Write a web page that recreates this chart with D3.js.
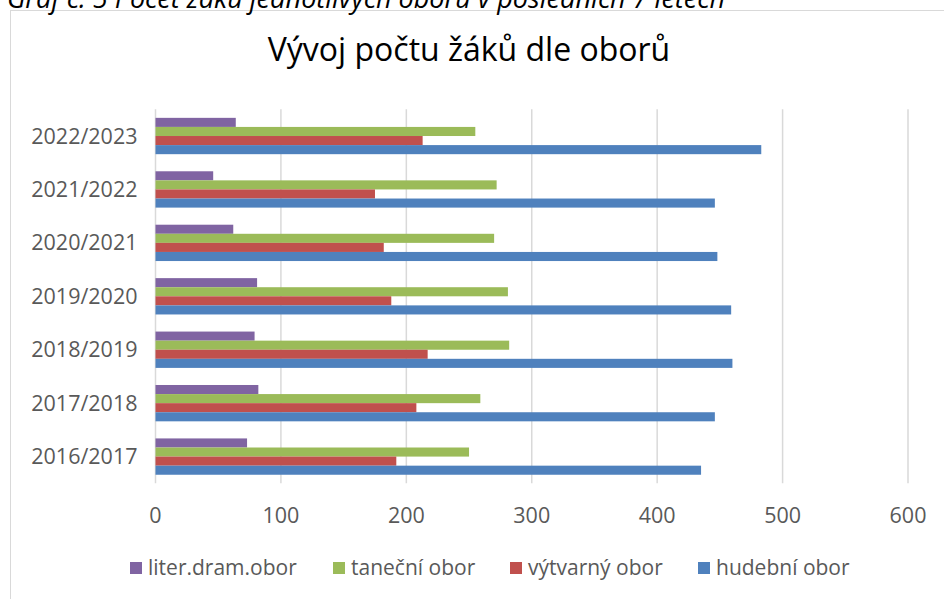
<!DOCTYPE html>
<html>
<head>
<meta charset="utf-8">
<script src="https://cdn.jsdelivr.net/npm/d3@7"></script>
<style>
  html, body { margin: 0; padding: 0; background: #fff; }
  svg { display: block; }
  text { font-family: "Open Sans", sans-serif; }
</style>
</head>
<body>
<div id="chart"></div>
<script>
  // school years, top to bottom as in the chart
  var years = ["2022/2023", "2021/2022", "2020/2021", "2019/2020", "2018/2019", "2017/2018", "2016/2017"];
  // series in order inside one group (top bar first)
  var seriesNames = ["liter.dram.obor", "taneční obor", "výtvarný obor", "hudební obor"];
  var seriesColors = ["#8064A2", "#9BBB59", "#C0504D", "#4F81BD"];
  var literDram = [64, 46, 62, 81, 79, 82, 73];
  var tanecni = [255, 272, 270, 281, 282, 259, 250];
  var vytvarny = [213, 175, 182, 188, 217, 208, 192];
  var hudebni = [483, 446, 448, 459, 460, 446, 435];
  var xTicks = [0, 100, 200, 300, 400, 500, 600];

  var W = 944, H = 599;
  var plotLeft = 155.5, plotRight = 908, plotTop = 109.3, plotBottom = 483.3;

  var svg = d3.select("#chart").append("svg")
      .attr("width", W)
      .attr("height", H);

  // chart frame (runs off the right and bottom of the picture)
  svg.append("rect")
      .attr("x", 10.5).attr("y", 10.5)
      .attr("width", W + 20).attr("height", H + 20)
      .attr("fill", "#fff")
      .attr("stroke", "#D9D9D9")
      .attr("stroke-width", 1);

  // caption of the document, cut off at the top
  svg.append("text")
      .attr("x", 7).attr("y", 8)
      .attr("font-size", 27)
      .attr("font-style", "italic")
      .attr("fill", "#000")
      .text("Graf č. 5  Počet žáků jednotlivých oborů v posledních 7 letech");

  svg.append("text")
      .attr("x", 469).attr("y", 61)
      .attr("text-anchor", "middle")
      .attr("font-size", 32)
      .attr("fill", "#000")
      .text("Vývoj počtu žáků dle oborů");

  var x = d3.scaleLinear().domain([0, 600]).range([plotLeft, plotRight]);
  var y = d3.scaleBand().domain(years).range([plotTop, plotBottom])
      .paddingInner(0.32).paddingOuter(0.16);
  var ySub = d3.scaleBand().domain(seriesNames).range([0, y.bandwidth()]);

  // vertical gridlines
  svg.append("g")
    .selectAll("line")
    .data(xTicks)
    .enter().append("line")
      .attr("x1", function(d) { return x(d); })
      .attr("x2", function(d) { return x(d); })
      .attr("y1", plotTop).attr("y2", plotBottom)
      .attr("stroke", "#D9D9D9")
      .attr("stroke-width", 1.5);

  var allValues = [literDram, tanecni, vytvarny, hudebni];

  var groups = svg.append("g")
    .selectAll("g")
    .data(years)
    .enter().append("g")
      .attr("transform", function(d) { return "translate(0," + y(d) + ")"; });

  groups.selectAll("rect")
    .data(function(d, i) {
      return seriesNames.map(function(s, k) { return { s: s, v: allValues[k][i], c: seriesColors[k] }; });
    })
    .enter().append("rect")
      .attr("x", x(0))
      .attr("y", function(d) { return ySub(d.s); })
      .attr("width", function(d) { return x(d.v) - x(0); })
      .attr("height", ySub.bandwidth())
      .attr("fill", function(d) { return d.c; });

  // category labels
  svg.append("g")
    .selectAll("text")
    .data(years)
    .enter().append("text")
      .attr("x", plotLeft - 18)
      .attr("y", function(d) { return y(d) + y.bandwidth() / 2; })
      .attr("dy", "0.35em")
      .attr("text-anchor", "end")
      .attr("font-size", 21.5)
      .attr("fill", "#595959")
      .text(function(d) { return d; });

  // value axis labels
  svg.append("g")
    .selectAll("text")
    .data(xTicks)
    .enter().append("text")
      .attr("x", function(d) { return x(d); })
      .attr("y", 523)
      .attr("text-anchor", "middle")
      .attr("font-size", 21.5)
      .attr("fill", "#595959")
      .text(function(d) { return d; });

  // legend
  var legendX = [130, 333, 510, 698];
  var legend = svg.append("g")
    .selectAll("g")
    .data(seriesNames)
    .enter().append("g")
      .attr("transform", function(d, i) { return "translate(" + legendX[i] + ",562)"; });
  legend.append("rect")
      .attr("width", 12).attr("height", 12)
      .attr("fill", function(d, i) { return seriesColors[i]; });
  legend.append("text")
      .attr("x", 18).attr("y", 6)
      .attr("dy", "0.35em")
      .attr("font-size", 21)
      .attr("fill", "#595959")
      .text(function(d) { return d; });
</script>
</body>
</html>
